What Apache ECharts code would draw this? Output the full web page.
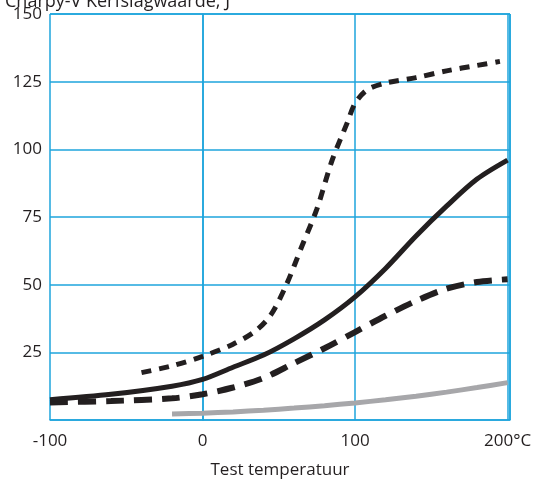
<!DOCTYPE html>
<html>
<head>
<meta charset="utf-8">
<script src="https://cdn.jsdelivr.net/npm/echarts@6/dist/echarts.min.js"></script>
<style>
  html, body { margin: 0; padding: 0; background: #fff; }
  #chart { width: 536px; height: 479px; }
</style>
</head>
<body>
<div id="chart"></div>
<script>
// x-as tick labels en y-as tick labels
var xTicks = [-100, 0, 100, 200];
var yTicks = [25, 50, 75, 100, 125, 150];

// curves: [temperatuur, waarde]
var solidLine = [[-100, 7.5], [-60, 9.5], [-20, 12.5], [0, 15], [20, 19.5], [40, 24], [60, 30], [80, 37], [100, 45.5], [120, 56], [140, 68], [160, 79], [180, 89], [200, 96]];
var dottedLine = [[-40, 17.5], [-20, 20], [0, 23.5], [20, 28], [35, 33], [45, 39], [55, 50], [65, 64], [75, 78], [85, 96], [95, 110], [100, 117], [108, 122], [120, 124.5], [140, 126.5], [160, 129], [180, 131], [195, 132.5]];
var dashedLine = [[-100, 6.5], [-60, 7], [-20, 8], [0, 9.5], [20, 12], [40, 15.5], [60, 21], [80, 26.5], [100, 32.5], [120, 38.5], [140, 44], [160, 48.5], [180, 51], [200, 52]];
var greyLine = [[-20, 2.2], [0, 2.5], [20, 3], [40, 3.6], [60, 4.4], [80, 5.3], [100, 6.3], [120, 7.5], [140, 8.8], [160, 10.3], [180, 12], [200, 13.8]];

var blue = "#1ea4dc";
var ink = "#231f20";
var font = "'Open Sans', Lato, sans-serif";

var chart = echarts.init(document.getElementById("chart"));

function line(data, color, width, type) {
  return {
    type: "line",
    data: data,
    smooth: 0.3,
    symbol: "none",
    lineStyle: { color: color, width: width, type: type, cap: "butt" },
    silent: true
  };
}

chart.setOption({
  animation: false,
  title: {
    text: "Charpy-V Kerfslagwaarde, J",
    left: 0,
    top: -12,
    textStyle: { fontFamily: font, fontSize: 18, fontWeight: "normal", color: ink }
  },
  grid: { left: 50, right: 26, top: 14, bottom: 59, outerBoundsMode: "none", containLabel: false },
  xAxis: {
    type: "value",
    min: -100,
    max: 201.6,
    interval: 100,
    name: "Test temperatuur",
    nameLocation: "middle",
    nameGap: 42,
    nameTextStyle: { fontFamily: font, fontSize: 17, color: ink },
    axisLine: { show: true, lineStyle: { color: blue, width: 1.5 } },
    axisTick: { show: false },
    splitLine: { show: true, lineStyle: { color: blue, width: 1.5 } },
    axisLabel: {
      margin: 13,
      fontFamily: font,
      fontSize: 17,
      color: ink,
      customValues: xTicks,
      formatter: function (v) { return v === 200 ? "200°C" : String(v); }
    }
  },
  yAxis: {
    type: "value",
    min: 0,
    max: 150,
    interval: 25,
    axisLine: { show: true, lineStyle: { color: blue, width: 1.5 } },
    axisTick: { show: false },
    splitLine: { show: true, lineStyle: { color: blue, width: 1.5 } },
    axisLabel: {
      margin: 8,
      padding: [5, 0, 0, 0],
      fontFamily: font,
      fontSize: 17,
      color: ink,
      customValues: yTicks
    }
  },
  series: [
    line(greyLine, "#a7a7aa", 5, "solid"),
    line(dashedLine, ink, 6, [18, 10]),
    line(solidLine, ink, 5, "solid"),
    line(dottedLine, ink, 5, [10, 8])
  ]
});

// rechter- en bovenrand van het raster
var r = chart.convertToPixel("grid", [201.6, 150]);
var o = chart.convertToPixel("grid", [-100, 0]);
chart.setOption({
  graphic: [
    { type: "line", shape: { x1: r[0], y1: r[1], x2: r[0], y2: o[1] }, style: { stroke: blue, lineWidth: 1.5 }, silent: true },
    { type: "line", shape: { x1: o[0], y1: r[1], x2: r[0], y2: r[1] }, style: { stroke: blue, lineWidth: 1.5 }, silent: true }
  ]
});
</script>
</body>
</html>
